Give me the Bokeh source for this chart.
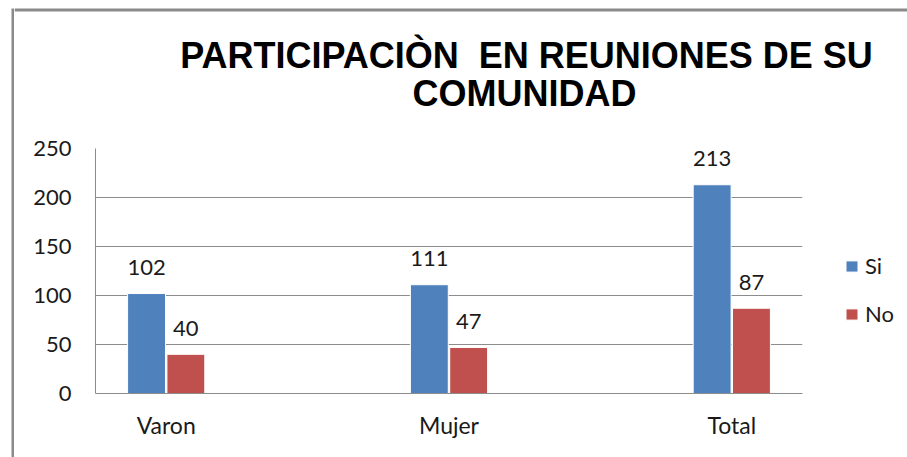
from bokeh.plotting import figure
from bokeh.layouts import column, row
from bokeh.models import (ColumnDataSource, FactorRange, Legend, LegendItem, Label,
                          FixedTicker, BoxAnnotation)
from bokeh.transform import dodge
from bokeh.embed import file_html
from bokeh.resources import INLINE
from bokeh.core.properties import value

# ---- data ----
categories = ["Varon", "Mujer", "Total"]
si = [102, 111, 213]
no = [40, 47, 87]
series = ["Si", "No"]
title_lines = ["PARTICIPACIÒN\u00a0 EN REUNIONES DE SU", "COMUNIDAD"]
y_ticks = [0, 50, 100, 150, 200, 250]

BLUE = "#4F81BD"
RED = "#C0504D"
GRID = "#8c8c8c"
BORDER = "#8a8a8a"
FONT = "Lato"
TXT = "#1a1a1a"


def blank(w, h):
    f = figure(width=w, height=h, x_range=(0, 1), y_range=(0, 1),
               output_backend="svg", toolbar_location=None,
               x_axis_location=None, y_axis_location=None, min_border=0,
               frame_align=False)
    f.outline_line_color = None
    f.grid.grid_line_color = None
    return f


# ---- left border strip ----
s = blank(14, 457)
s.add_layout(BoxAnnotation(left=11, right=14, bottom=0, top=449,
                           left_units="screen", right_units="screen",
                           bottom_units="screen", top_units="screen",
                           fill_color=BORDER, fill_alpha=1, line_color=None))

# ---- title figure ----
t = blank(893, 133)
t.add_layout(BoxAnnotation(left=0, right=893, bottom=122, top=125,
                           left_units="screen", right_units="screen",
                           bottom_units="screen", top_units="screen",
                           fill_color=BORDER, fill_alpha=1, line_color=None))
t.add_layout(Label(x=512, y=78, x_units="screen", y_units="screen", text=title_lines[0],
                   text_align="center", text_baseline="middle",
                   text_font="Liberation Sans", text_font_style="bold",
                   text_font_size="36px", text_color="black"))
t.add_layout(Label(x=510, y=40, x_units="screen", y_units="screen", text=title_lines[1],
                   text_align="center", text_baseline="middle",
                   text_font="Liberation Sans", text_font_style="bold",
                   text_font_size="36px", text_color="black"))

# ---- main chart ----
src = ColumnDataSource(dict(cat=categories, si=si, no=no,
                            si_lbl=[str(v) for v in si],
                            no_lbl=[str(v) for v in no]))

xr = FactorRange(factors=categories, range_padding=-0.25, range_padding_units="absolute")
p = figure(x_range=xr, y_range=(0, 250), frame_width=707, frame_height=245,
           output_backend="svg", toolbar_location=None,
           min_border_left=81, min_border_right=105,
           min_border_top=15, min_border_bottom=64, frame_align=False)

p.outline_line_color = None
p.background_fill_color = "white"
p.border_fill_color = "white"

p.yaxis.ticker = FixedTicker(ticks=y_ticks)
p.yaxis.major_tick_line_color = None
p.yaxis.minor_tick_line_color = None
p.yaxis.major_tick_out = 0
p.yaxis.major_label_standoff = 24
p.yaxis.axis_line_color = GRID
p.yaxis.major_label_text_font = FONT
p.yaxis.major_label_text_font_size = "22px"
p.yaxis.major_label_text_color = TXT

p.xaxis.major_tick_line_color = None
p.xaxis.minor_tick_line_color = None
p.xaxis.major_tick_out = 0
p.xaxis.major_label_standoff = 17
p.xaxis.axis_line_color = GRID
p.xaxis.major_label_text_font = FONT
p.xaxis.major_label_text_font_size = "23px"
p.xaxis.major_label_text_color = TXT

p.xgrid.grid_line_color = None
p.ygrid.ticker = FixedTicker(ticks=y_ticks)
p.ygrid.grid_line_color = GRID

off = 0.0695
w = 0.134
r_si = p.vbar(x=dodge("cat", -off, range=xr), top="si", width=w, source=src,
              fill_color=BLUE, line_color="white", line_width=1)
r_no = p.vbar(x=dodge("cat", off, range=xr), top="no", width=w, source=src,
              fill_color=RED, line_color="white", line_width=1)

p.text(x=dodge("cat", -off, range=xr), y="si", text="si_lbl", source=src,
       text_align="center", text_baseline="middle", y_offset=-26,
       text_font=value(FONT), text_font_size="22px", text_color=TXT)
p.text(x=dodge("cat", off, range=xr), y="no", text="no_lbl", source=src,
       text_align="center", text_baseline="middle", y_offset=-25.5,
       text_font=value(FONT), text_font_size="22px", text_color=TXT)

legend = Legend(items=[LegendItem(label=series[0], renderers=[r_si]),
                       LegendItem(label=series[1], renderers=[r_no])],
                location=(42, 66), orientation="vertical",
                glyph_width=15, glyph_height=14, label_standoff=6,
                spacing=21, label_height=24, padding=0, margin=0,
                border_line_color=None, background_fill_alpha=0,
                label_text_font=FONT, label_text_font_size="22px",
                label_text_color=TXT)
p.add_layout(legend, "right")

layout = row(s, column(t, p, spacing=0), spacing=0)

open("out.html", "w").write(file_html(layout, INLINE))
